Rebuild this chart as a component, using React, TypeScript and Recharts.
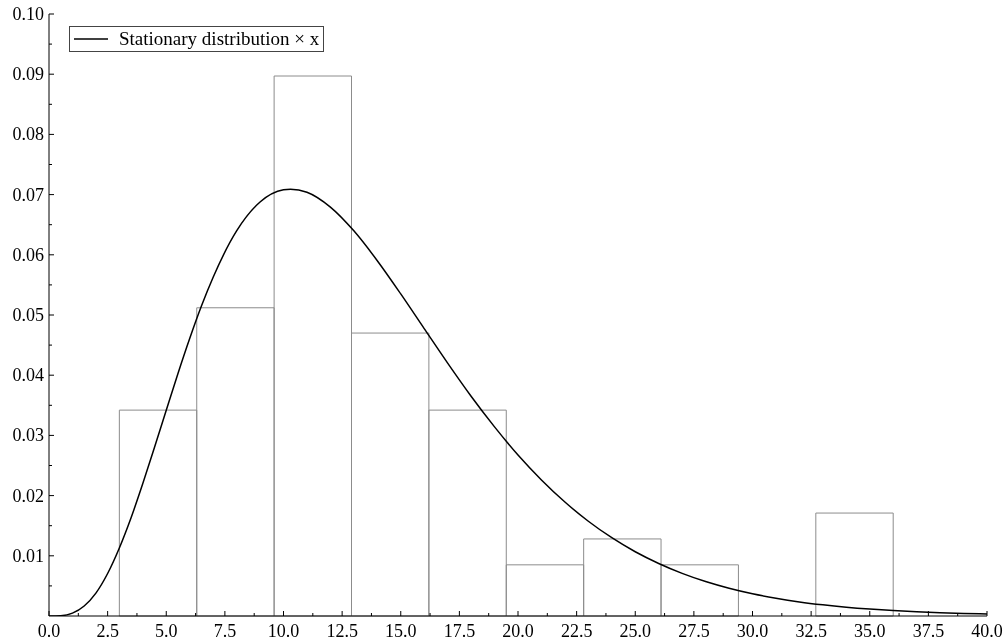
import React from "react";
import {
  ComposedChart, Line, XAxis, YAxis, ReferenceArea, Legend
} from "recharts";

// histogram bins (density)
const binStart = [3.0, 6.3, 9.6, 12.9, 16.2, 19.5, 22.8, 26.1, 29.4, 32.7];
const binEnd = [6.3, 9.6, 12.9, 16.2, 19.5, 22.8, 26.1, 29.4, 32.7, 36.0];
const binHeight = [0.0342, 0.0512, 0.0897, 0.047, 0.0342, 0.0085, 0.0128, 0.0085, 0, 0.0171];

// curve
const curveX = [
  0, 0.5, 1, 1.5, 2, 2.5, 3, 3.5, 4, 4.5, 5, 5.5, 6, 6.5, 7, 8, 9, 10, 10.3, 11, 12, 13, 14, 15,
  16, 17, 18, 19, 20, 21, 22, 23, 24, 25, 26, 27, 28, 29, 30, 31, 32, 33, 34, 35, 36, 37, 38, 39, 40,
];
const curveY = [
  0, 0.00005, 0.00047, 0.00166, 0.0038, 0.00706, 0.0113, 0.01632, 0.022, 0.02803, 0.03419,
  0.04029, 0.04609, 0.05148, 0.05627, 0.06396, 0.06877, 0.0708, 0.0709, 0.0704, 0.06793,
  0.06398, 0.05902, 0.0535, 0.04774, 0.04201, 0.03651, 0.03142, 0.02674, 0.0226, 0.01893,
  0.01574, 0.013, 0.01067, 0.00872, 0.00708, 0.00572, 0.00461, 0.00369, 0.00295, 0.00234,
  0.00186, 0.00147, 0.00116, 0.00091, 0.00071, 0.00056, 0.00043, 0.00034,
];

const xTicks = [
  0, 1.25, 2.5, 3.75, 5, 6.25, 7.5, 8.75, 10, 11.25, 12.5, 13.75, 15, 16.25, 17.5, 18.75, 20,
  21.25, 22.5, 23.75, 25, 26.25, 27.5, 28.75, 30, 31.25, 32.5, 33.75, 35, 36.25, 37.5, 38.75, 40,
];
const yTicks = [
  0, 0.005, 0.01, 0.015, 0.02, 0.025, 0.03, 0.035, 0.04, 0.045, 0.05, 0.055, 0.06, 0.065, 0.07,
  0.075, 0.08, 0.085, 0.09, 0.095, 0.1,
];

const curve = curveX.map((x, i) => ({ x, y: curveY[i] }));
const FONT = "'Liberation Serif', 'Times New Roman', serif";

const XTick = (props: any) => {
  const { x, y, payload } = props;
  const v = payload.value;
  const major = Math.abs(v / 2.5 - Math.round(v / 2.5)) < 1e-6;
  return (
    <g>
      <line x1={x} x2={x} y1={y} y2={y - (major ? 5 : 3)} stroke="#000" />
      {major && (
        <text x={x} y={y + 21} textAnchor="middle" fontSize={18} fontFamily={FONT} fill="#000">
          {v.toFixed(1)}
        </text>
      )}
    </g>
  );
};

const YTick = (props: any) => {
  const { x, y, payload } = props;
  const v = payload.value;
  const major = Math.abs(v / 0.01 - Math.round(v / 0.01)) < 1e-6;
  if (v === 0) return <g />;
  return (
    <g>
      <line x1={x} x2={x + (major ? 5 : 3)} y1={y} y2={y} stroke="#000" />
      {major && (
        <text x={x - 5} y={y + 6} textAnchor="end" fontSize={18} fontFamily={FONT} fill="#000">
          {v.toFixed(2)}
        </text>
      )}
    </g>
  );
};

const LegendBox = () => (
  <div
    style={{
      border: "1px solid #444",
      display: "flex",
      alignItems: "center",
      boxSizing: "border-box",
      height: 26,
      padding: "0 4px 0 4px",
      fontFamily: FONT,
      fontSize: 19,
      color: "#000",
      background: "#fff",
      whiteSpace: "nowrap",
    }}
  >
    <svg width={34} height={10} style={{ marginRight: 11 }}>
      <line x1={0} x2={34} y1={5} y2={5} stroke="#000" strokeWidth={1.5} />
    </svg>
    <span>Stationary distribution × x</span>
  </div>
);

export default function App() {
  return (
    <div style={{ position: "fixed", left: 0, top: 0, width: 1007, height: 643, overflow: "hidden" }}>
      <ComposedChart
        width={1007}
        height={643}
        data={curve}
        margin={{ top: 14, right: 20, bottom: 0, left: 0 }}
      >
        <XAxis
          dataKey="x"
          type="number"
          domain={[0, 40]}
          ticks={xTicks}
          interval={0}
          height={27}
          tickSize={0}
          tickMargin={0}
          tickLine={false}
          axisLine={{ stroke: "#000" }}
          tick={<XTick />}
          allowDataOverflow
        />
        <YAxis
          type="number"
          domain={[0, 0.1]}
          ticks={yTicks}
          interval={0}
          width={49}
          tickSize={0}
          tickMargin={0}
          tickLine={false}
          axisLine={{ stroke: "#000" }}
          tick={<YTick />}
          allowDataOverflow
        />
        {binHeight.map((h, i) =>
          h > 0 ? (
            <ReferenceArea
              key={i}
              x1={binStart[i]}
              x2={binEnd[i]}
              y1={0}
              y2={h}
              fill="none"
              fillOpacity={0}
              stroke="#8c8c8c"
              strokeWidth={1}
            />
          ) : null
        )}
        <Line
          dataKey="y"
          type="monotone"
          stroke="#000"
          strokeWidth={1.5}
          dot={false}
          activeDot={false}
          isAnimationActive={false}
          name="Stationary distribution × x"
        />
        <Legend
          layout="horizontal"
          verticalAlign="middle"
          align="center"
          content={<LegendBox />}
          wrapperStyle={{ left: 69, top: 26, width: "auto" }}
        />
      </ComposedChart>
    </div>
  );
}
